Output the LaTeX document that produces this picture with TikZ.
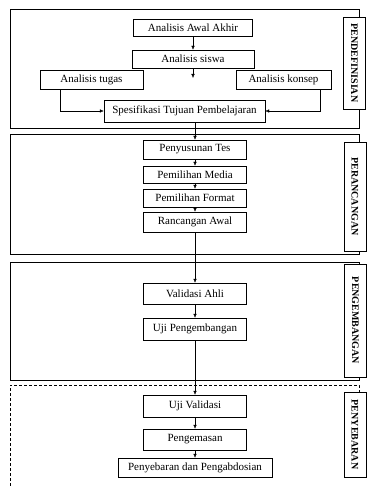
\documentclass[tikz,border=0pt]{standalone}
\usepackage{fontspec}
\setmainfont{Liberation Serif}
\usetikzlibrary{arrows.meta}

\begin{document}
\begin{tikzpicture}[->, >={Latex[length=4pt,width=3.5pt]}, x=1pt, y=-1pt,
    stage/.style={draw, fill=white, inner sep=1pt, minimum width=103pt,
      font=\fontsize{11}{13}\selectfont},
    phase/.style={draw, fill=white, rotate=-90, inner sep=1pt, minimum height=22pt,
      font=\bfseries\fontsize{10}{12}\selectfont}]
            \useasboundingbox (0,0) rectangle (369,486);
            % frames
            \draw[-] (10,9) rectangle (359,128);
            \draw[-] (10,134) rectangle (359,254);
            \draw[-] (10,262) rectangle (359,380);
            \draw[-, dash pattern=on 3pt off 2pt] (10,486) -- (10,385) -- (359,385) -- (359,392);

            \node (1) [stage, minimum width=119pt, minimum height=17pt] at (193,27.5) {Analisis Awal Akhir};
            \node (2) [stage, minimum width=122pt, minimum height=18pt] at (193,59) {Analisis siswa};
            \coordinate (2a) at (193,78);
            \node (3) [stage, minimum width=103pt, minimum height=19pt] at (91.5,79.5) {Analisis tugas};
            \node (4) [stage, minimum width=95pt, minimum height=19pt] at (283.5,79.5) {Analisis konsep};
            \node (5) [stage, minimum width=161pt, minimum height=22pt] at (184.5,111) {Spesifikasi Tujuan Pembelajaran};
            \node (6) [stage, minimum height=19pt] at (195,149.5) {Penyusunan Tes};
            \node (7) [stage, minimum height=17pt, below of=6, node distance=25pt] {Pemilihan Media};
            \node (8) [stage, minimum height=18pt, below of=7, node distance=23.5pt] {Pemilihan Format};
            \node (9) [stage, minimum height=20pt, below of=8, node distance=24pt] {Rancangan Awal};
            \node (10) [stage, minimum height=21pt] at (195,293.5) {Validasi Ahli};
            \node (11) [stage, minimum height=22pt, below of=10, node distance=35.5pt] {Uji Pengembangan};
            \node (12) [stage, minimum height=22pt] at (195,406) {Uji Validasi};
            \node (13) [stage, minimum height=21pt, below of=12, node distance=33.5pt] {Pengemasan};
            \node (14) [stage, minimum width=154pt, minimum height=19pt, below of=13, node distance=28pt] {Penyebaran dan Pengabdosian};

            \node (p1) [phase, minimum width=92pt] at (354.5,63) {PENDEFINISIAN};
            \node (p2) [phase, minimum width=109pt] at (355,196.5) {PERANCANGAN};
            \node (p3) [phase, minimum width=113pt] at (355.5,320.5) {PENGEMBANGAN};
            \node (p4) [phase, minimum width=85pt] at (355,434.5) {PENYEBARAN};

            \path
            (1) edge node {} (2)
            (2) edge node {} (2a)
            (5.south -| 6) edge node {} (6)
            (6) edge node {} (7)
            (7) edge node {} (8)
            (8) edge node {} (9)
            (9) edge node {} (10)
            (10) edge node {} (11)
            (11) edge node {} (12)
            (12) edge node {} (13)
            (13) edge node {} (14);
            \draw ([xshift=20pt]3.south west) |- (5.west);
            \draw ([xshift=-11pt]4.south east) |- (5.east);

        \end{tikzpicture}
\end{document}
